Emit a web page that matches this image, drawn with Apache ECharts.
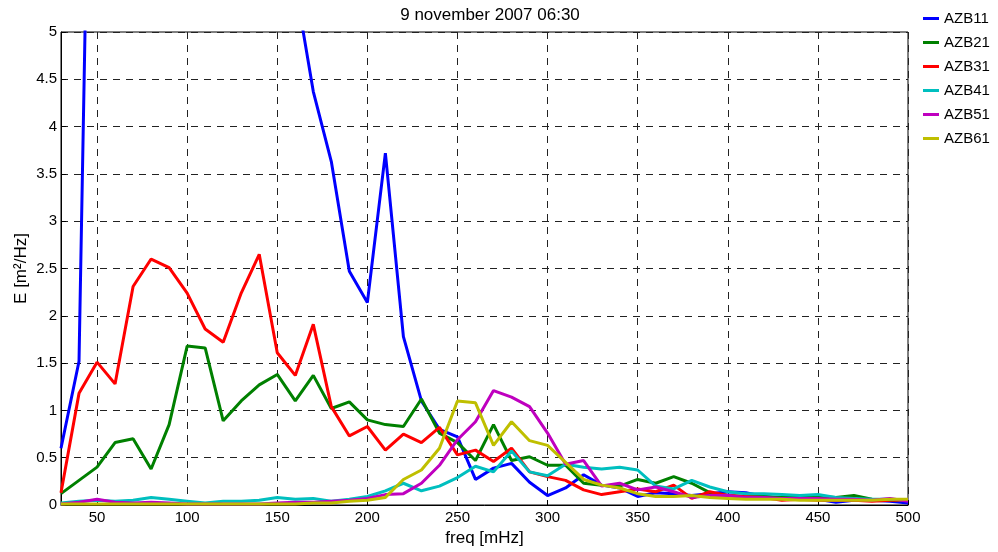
<!DOCTYPE html>
<html>
<head>
<meta charset="utf-8">
<script src="https://cdn.jsdelivr.net/npm/echarts@6/dist/echarts.min.js"></script>
<style>html,body{margin:0;padding:0;background:#fff}#c{width:998px;height:552px}</style>
</head>
<body>
<div id="c"></div>
<script>
var freq = [30,40,50,60,70,80,90,100,110,120,130,140,150,160,170,180,190,200,210,220,230,240,250,260,270,280,290,300,310,320,330,340,350,360,370,380,390,400,410,420,430,440,450,460,470,480,490,500];
var AZB11 = [0.6,1.52,12,18,22,25,24,20,16,14,12,10,8,5.5,4.37,3.63,2.47,2.14,3.72,1.78,1.1,0.8,0.72,0.27,0.39,0.44,0.24,0.1,0.18,0.32,0.21,0.18,0.09,0.13,0.12,0.1,0.12,0.14,0.13,0.09,0.07,0.07,0.06,0.03,0.05,0.05,0.04,0.02];
var AZB21 = [0.12,0.26,0.4,0.66,0.7,0.38,0.85,1.68,1.66,0.89,1.1,1.27,1.38,1.1,1.37,1.02,1.09,0.9,0.85,0.83,1.12,0.76,0.66,0.47,0.85,0.47,0.51,0.42,0.42,0.23,0.21,0.2,0.27,0.23,0.3,0.23,0.13,0.1,0.09,0.09,0.08,0.09,0.09,0.08,0.1,0.06,0.05,0.05];
var AZB31 = [0.13,1.18,1.51,1.28,2.31,2.6,2.51,2.24,1.86,1.72,2.24,2.65,1.61,1.37,1.91,1.04,0.73,0.83,0.58,0.75,0.66,0.82,0.53,0.58,0.46,0.6,0.35,0.3,0.26,0.16,0.11,0.14,0.17,0.14,0.21,0.07,0.14,0.1,0.09,0.08,0.05,0.06,0.05,0.05,0.05,0.04,0.05,0.05];
var AZB41 = [0.02,0.04,0.05,0.04,0.05,0.08,0.06,0.04,0.02,0.04,0.04,0.05,0.08,0.06,0.07,0.04,0.06,0.09,0.15,0.23,0.15,0.2,0.29,0.41,0.35,0.57,0.35,0.31,0.43,0.4,0.38,0.4,0.37,0.2,0.17,0.26,0.19,0.14,0.12,0.12,0.11,0.1,0.11,0.08,0.07,0.06,0.06,0.05];
var AZB51 = [0.01,0.03,0.06,0.03,0.02,0.03,0.02,0.01,0.01,0.01,0.01,0.01,0.02,0.03,0.03,0.04,0.05,0.07,0.11,0.12,0.23,0.42,0.69,0.88,1.21,1.14,1.04,0.76,0.43,0.47,0.2,0.23,0.16,0.19,0.14,0.08,0.1,0.1,0.08,0.08,0.07,0.07,0.07,0.06,0.06,0.05,0.07,0.04];
var AZB61 = [0.01,0.01,0.01,0.01,0.01,0.01,0.01,0.01,0.01,0.01,0.01,0.01,0.01,0.01,0.02,0.02,0.04,0.05,0.08,0.27,0.37,0.6,1.1,1.08,0.63,0.88,0.68,0.63,0.45,0.27,0.21,0.18,0.12,0.09,0.09,0.1,0.08,0.07,0.06,0.06,0.06,0.05,0.05,0.05,0.05,0.05,0.06,0.06];
var xTicks = [50,100,150,200,250,300,350,400,450,500];
var names = ['AZB11','AZB21','AZB31','AZB41','AZB51','AZB61'];
var colors = ['#0000ff','#008000','#ff0000','#00bfbf','#bf00bf','#bfbf00'];
var values = [AZB11,AZB21,AZB31,AZB41,AZB51,AZB61];

var font = 'Liberation Sans, Arial, sans-serif';
var chart = echarts.init(document.getElementById('c'), null, {renderer:'canvas'});
var series = names.map(function(n,i){
  return {
    name:n, type:'line', symbol:'none', clip:true,
    data: freq.map(function(f,j){return [f, values[i][j]];}),
    lineStyle:{width:3,color:colors[i]}, itemStyle:{color:colors[i]},
    emphasis:{disabled:true}
  };
});
chart.setOption({
  animation:false,
  backgroundColor:'#fff',
  title:{text:'9 november 2007 06:30', left:485, top:2, textAlign:'center',
    textStyle:{fontFamily:font,fontSize:17,fontWeight:'normal',color:'#000'}},
  legend:{orient:'vertical', left:918, top:6, itemWidth:16, itemHeight:3, itemGap:9,
    icon:'rect', textStyle:{fontFamily:font,fontSize:15,color:'#000'}, data:names},
  grid:{left:61,right:90,top:32,bottom:47,show:true,borderColor:'#000',borderWidth:1,backgroundColor:'transparent'},
  xAxis:{type:'value',min:30,max:500,
    name:'freq [mHz]',nameLocation:'middle',nameGap:25,nameMoveOverlap:false,
    nameTextStyle:{fontFamily:font,fontSize:17,color:'#000'},
    axisLine:{lineStyle:{color:'#000',width:1}},
    axisTick:{inside:true,length:5,customValues:xTicks,lineStyle:{color:'#000'}},
    axisLabel:{customValues:xTicks,fontFamily:font,fontSize:15,color:'#000',margin:5},
    splitLine:{show:true,lineStyle:{type:[7,6],color:'#222',width:1}}
  },
  yAxis:{type:'value',min:0,max:5,interval:0.5,
    name:'E [m²/Hz]',nameLocation:'middle',nameGap:31,nameMoveOverlap:false,
    nameTextStyle:{fontFamily:font,fontSize:17,color:'#000'},
    axisLine:{show:true,lineStyle:{color:'#000',width:1}},
    axisTick:{show:true,inside:true,length:5,lineStyle:{color:'#000'}},
    axisLabel:{fontFamily:font,fontSize:15,color:'#000',margin:4},
    splitLine:{show:true,lineStyle:{type:[7,6],color:'#222',width:1}}
  },
  series:series
});
</script>
</body>
</html>
